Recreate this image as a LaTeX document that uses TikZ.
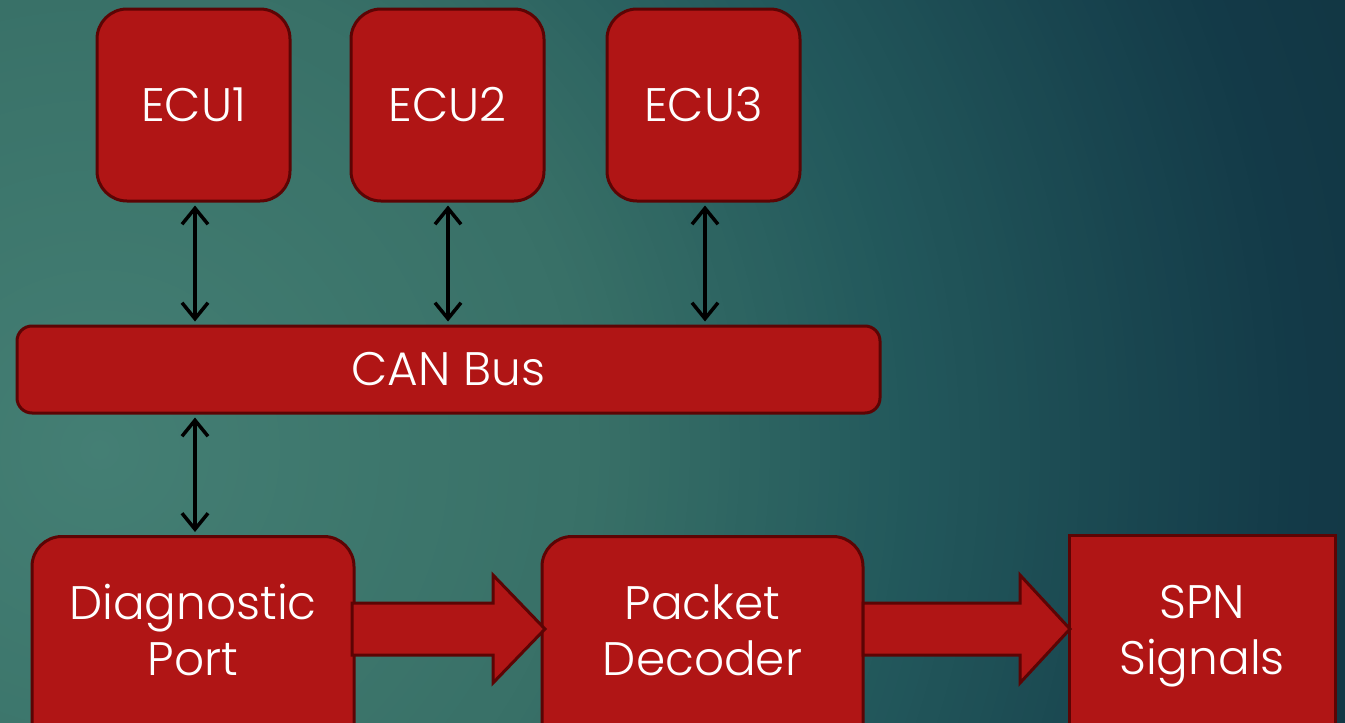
\documentclass[tikz,border=0pt]{standalone}
\usepackage{fontspec}
\setmainfont{Poppins}[UprightFont=* Light]
\usetikzlibrary{arrows.meta,calc}
\definecolor{bgA}{RGB}{68,127,116}
\definecolor{bgB}{RGB}{56,112,103}
\definecolor{bgC}{RGB}{35,89,92}
\definecolor{bgD}{RGB}{19,58,72}
\definecolor{bgE}{RGB}{16,50,62}
\definecolor{boxfill}{RGB}{176,21,21}
\definecolor{boxline}{RGB}{92,4,4}
\tikzset{
  box/.style={draw=boxline, fill=boxfill, line width=3pt, rounded corners=30pt, inner sep=0pt},
  sqbox/.style={draw=boxline, fill=boxfill, line width=3pt, inner sep=0pt},
  lbl/.style={text=white, font=\fontsize{47}{56}\selectfont, align=center, inner sep=0pt},
  link/.style={draw=black, line width=3.5pt, {Straight Barb[length=16pt,width=26pt,line width=3.5pt]}-{Straight Barb[length=16pt,width=26pt,line width=3.5pt]}, shorten <=3pt, shorten >=3pt},
  blockarrow/.style={draw=boxline, fill=boxfill, line width=3pt, line join=miter}
}
\begin{document}
\begin{tikzpicture}[x=1pt,y=-1pt]
\useasboundingbox (0,0) rectangle (1345,723);
\begin{scope}
\clip (0,0) rectangle (1345,723);
\fill[bgE] (0,0) rectangle (1345,723);
\coordinate (bgc) at (100,450);
\foreach \r in {1500,1490,...,1200}{\pgfmathtruncatemacro\p{(1500-\r)/3}\fill[bgD!\p!bgE] (bgc) circle (\r);}
\foreach \r in {1190,1180,...,800}{\pgfmathtruncatemacro\p{(1200-\r)/4}\fill[bgC!\p!bgD] (bgc) circle (\r);}
\foreach \r in {790,780,...,500}{\pgfmathtruncatemacro\p{(800-\r)/3}\fill[bgB!\p!bgC] (bgc) circle (\r);}
\foreach \r in {490,480,...,10}{\pgfmathtruncatemacro\p{(500-\r)/5}\fill[bgA!\p!bgB] (bgc) circle (\r);}

% ECU boxes
\node[box, minimum width=193pt, minimum height=192pt] (ecu1) at (193.5,105) {};
\node[box, minimum width=193pt, minimum height=192pt] (ecu2) at (447.5,105) {};
\node[box, minimum width=193pt, minimum height=192pt] (ecu3) at (703.5,105) {};
\node[lbl] (t1) at (ecu1.center) {ECU1};
\node[lbl] (t2) at (ecu2.center) {ECU2};
\node[lbl] (t3) at (ecu3.center) {ECU3};

% CAN bus
\node[box, rounded corners=15pt, minimum width=863pt, minimum height=87pt] (can) at (448.5,369.5) {};
\node[lbl] (tcan) at (can.center) {CAN Bus};

% bottom row
\node[box, minimum width=322pt, minimum height=300pt, anchor=north] (diag) at (193,535) {};
\node[lbl] (tdiag) at (193,630) {Diagnostic\\Port};
\node[box, minimum width=321pt, minimum height=300pt, anchor=north] (pdec) at (702.5,535) {};
\node[lbl] (tpdec) at (702.5,630) {Packet\\Decoder};
\node[sqbox, minimum width=266pt, minimum height=300pt, anchor=north] (spn) at (1202,534) {};
\node[lbl] (tspn) at (1202,636) {SPN\\Signals};

% connectors
\draw[link] (ecu1.south -| 195,0) -- (can.north -| 195,0);
\draw[link] (ecu2.south -| 448,0) -- (can.north -| 448,0);
\draw[link] (ecu3.south -| 705,0) -- (can.north -| 705,0);
\draw[link] (can.south -| 195,0) -- (diag.north -| 195,0);

% block arrows
\coordinate (a1s) at (352,629);
\coordinate (a1t) at (545,629);
\draw[blockarrow] ($(a1s)+(0,-26)$) -- ($(a1t)+(-52,-26)$) -- ($(a1t)+(-52,-54)$) -- (a1t)
  -- ($(a1t)+(-52,54)$) -- ($(a1t)+(-52,26)$) -- ($(a1s)+(0,26)$) -- cycle;
\coordinate (a2s) at (863,629);
\coordinate (a2t) at (1070,629);
\draw[blockarrow] ($(a2s)+(0,-26)$) -- ($(a2t)+(-50,-26)$) -- ($(a2t)+(-50,-54)$) -- (a2t)
  -- ($(a2t)+(-50,54)$) -- ($(a2t)+(-50,26)$) -- ($(a2s)+(0,26)$) -- cycle;
\end{scope}
\end{tikzpicture}
\end{document}
